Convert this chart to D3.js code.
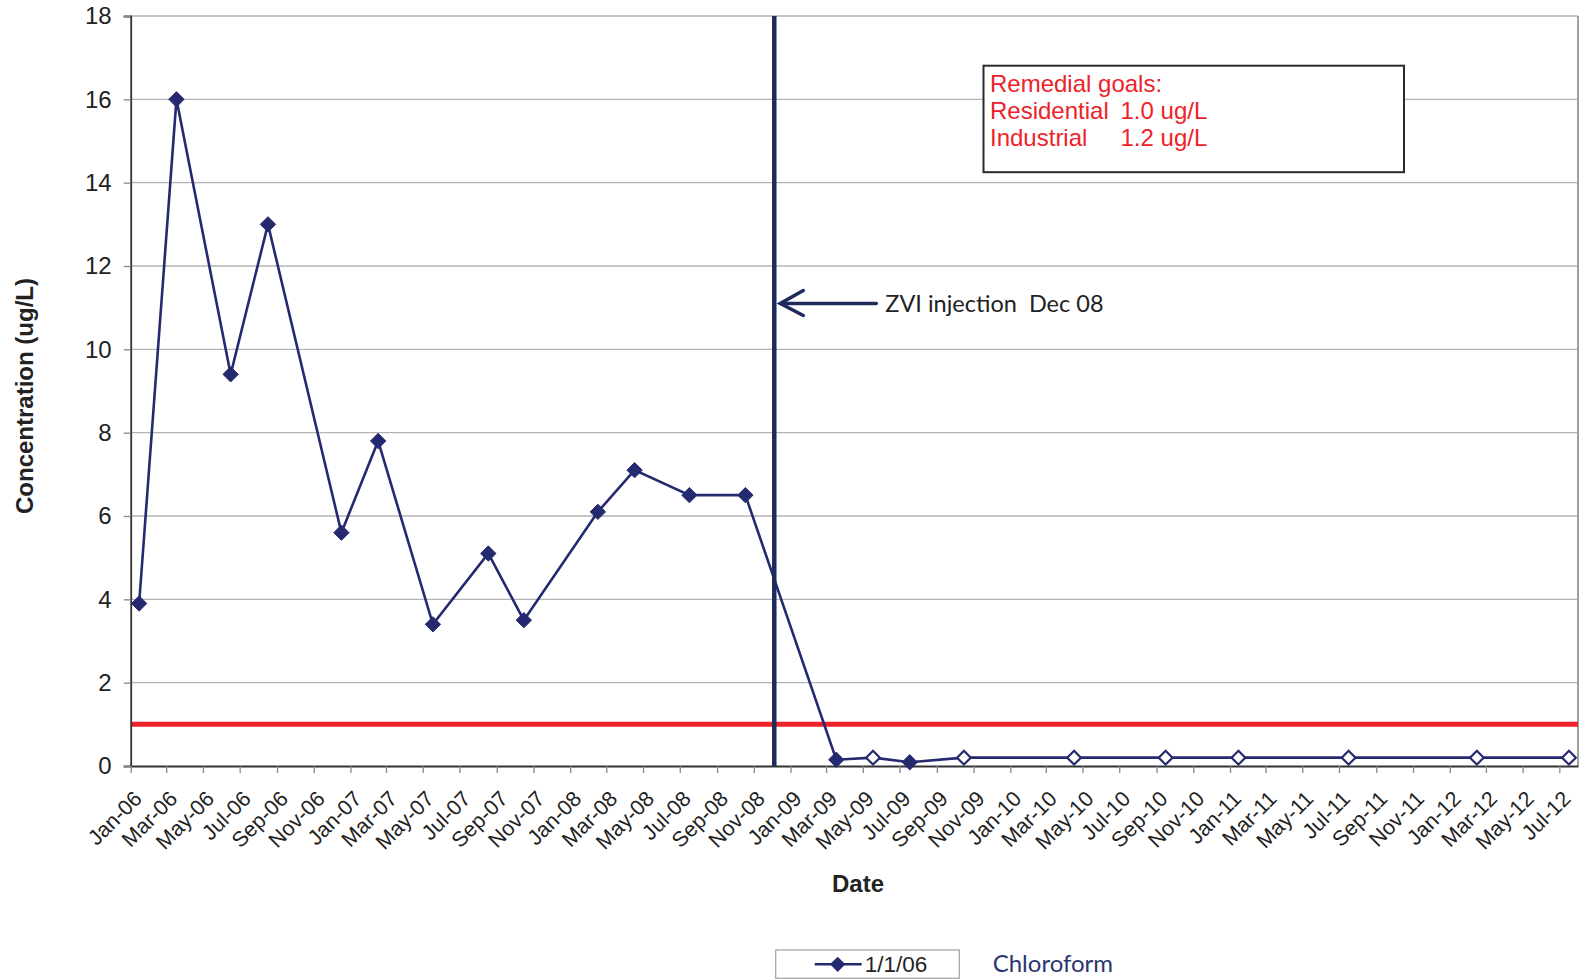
<!DOCTYPE html>
<html>
<head>
<meta charset="utf-8">
<script src="https://cdn.jsdelivr.net/npm/d3@7"></script>
<style>
    body { margin: 0; background: #fff; }
    svg { display: block; }
</style>
</head>
<body>
<script>
// Chloroform concentration over time, with ZVI injection marker

// sample dates and results (ug/L)
var sampleDates = [
    "2006-01-15", "2006-03-18", "2006-06-16", "2006-08-17", "2006-12-17",
    "2007-02-16", "2007-05-18", "2007-08-18", "2007-10-16", "2008-02-16",
    "2008-04-17", "2008-07-17", "2008-10-18", "2009-03-18", "2009-05-18",
    "2009-07-18", "2009-10-16", "2010-04-17", "2010-09-16", "2011-01-15",
    "2011-07-17", "2012-02-15", "2012-07-17"
];
var concentration = [
    3.9, 16, 9.4, 13, 5.6,
    7.8, 3.4, 5.1, 3.5, 6.1,
    7.1, 6.5, 6.5, 0.15, 0.2,
    0.09, 0.2, 0.2, 0.2, 0.2,
    0.2, 0.2, 0.2
];
// true = not detected (hollow marker)
var nonDetect = [
    false, false, false, false, false,
    false, false, false, false, false,
    false, false, false, false, true,
    false, true, true, true, true,
    true, true, true
];

var yTicks = [0, 2, 4, 6, 8, 10, 12, 14, 16, 18];
var remedialGoal = 1.0;
var injectionDate = "2008-12-05";
var axisStart = "2006-01-01", axisEnd = "2012-08-01";
var goalLines = ["Remedial goals:", "Residential", "Industrial"];
var goalValues = ["", "1.0 ug/L", "1.2 ug/L"];

var navy = "#252a70";
var red = "#ee2229";
var arial = "Liberation Sans, Arial, sans-serif";

var margin = {top: 16, right: 7, bottom: 214, left: 130.7},
    width = 1585 - margin.left - margin.right,
    height = 980 - margin.top - margin.bottom;

var svg = d3.select("body").append("svg")
    .attr("width", 1585)
    .attr("height", 980);

var g = svg.append("g")
    .attr("transform", "translate(" + margin.left + "," + margin.top + ")");

var parse = d3.utcParse("%Y-%m-%d");

var xScale = d3.scaleUtc()
    .domain([parse(axisStart), parse(axisEnd)])
    .range([0, width]);

var yScale = d3.scaleLinear().domain([0, 18]).range([height, 0]);

var data = sampleDates.map(function(d, i) {
    return {date: parse(d), value: concentration[i], nd: nonDetect[i]};
});

// gridlines
g.selectAll("line.grid")
    .data(yTicks.filter(function(t) { return t > 0; }))
    .enter().append("line")
    .attr("class", "grid")
    .attr("x1", 0).attr("x2", width)
    .attr("y1", function(d) { return yScale(d); })
    .attr("y2", function(d) { return yScale(d); })
    .attr("stroke", "#b4b4b4")
    .attr("stroke-width", 1.3);

// right border
g.append("line")
    .attr("x1", width).attr("x2", width)
    .attr("y1", 0).attr("y2", height)
    .attr("stroke", "#a0a0a0")
    .attr("stroke-width", 2);

// remedial goal line
g.append("line")
    .attr("x1", 0).attr("x2", width)
    .attr("y1", yScale(remedialGoal)).attr("y2", yScale(remedialGoal))
    .attr("stroke", red)
    .attr("stroke-width", 5);

// y axis
var yAxis = d3.axisLeft(yScale).tickValues(yTicks).tickSize(7).tickPadding(12);
var yg = g.append("g").call(yAxis);
yg.select(".domain").attr("stroke", "#333").attr("stroke-width", 1.8);
yg.selectAll(".tick line").attr("stroke", "#888").attr("stroke-width", 1.3);
yg.selectAll("text")
    .attr("font-family", arial)
    .attr("font-size", "24px")
    .attr("fill", "#222");

// x axis
var tickDates = d3.utcMonth.every(2).range(parse(axisStart), parse(axisEnd));
var xAxis = d3.axisBottom(xScale)
    .tickValues(tickDates)
    .tickFormat(d3.utcFormat("%b-%y"))
    .tickSize(7)
    .tickSizeOuter(0);
var xg = g.append("g")
    .attr("transform", "translate(0," + height + ")")
    .call(xAxis);
xg.select(".domain").attr("stroke", "#333").attr("stroke-width", 1.8);
xg.selectAll(".tick line").attr("stroke", "#888").attr("stroke-width", 1.3);
xg.selectAll("text")
    .attr("font-family", arial)
    .attr("font-size", "21.5px")
    .attr("fill", "#222")
    .attr("y", 0)
    .attr("dy", "0")
    .style("text-anchor", "end")
    .attr("transform", "translate(12,34) rotate(-45)");

// series line
var line = d3.line()
    .x(function(d) { return xScale(d.date); })
    .y(function(d) { return yScale(d.value); });

g.append("path")
    .datum(data)
    .attr("d", line)
    .attr("fill", "none")
    .attr("stroke", navy)
    .attr("stroke-width", 2.6);

// injection marker line
var xInj = xScale(parse(injectionDate));
g.append("line")
    .attr("x1", xInj).attr("x2", xInj)
    .attr("y1", 0).attr("y2", height)
    .attr("stroke", "#1f2a5c")
    .attr("stroke-width", 4.5);

// markers
var diamond = d3.symbol().type(d3.symbolDiamond2);
g.selectAll("path.pt")
    .data(data)
    .enter().append("path")
    .attr("class", "pt")
    .attr("transform", function(d) {
        return "translate(" + xScale(d.date) + "," + yScale(d.value) + ")";
    })
    .attr("d", function(d) { return diamond.size(d.nd ? 120 : 150)(); })
    .attr("fill", function(d) { return d.nd ? "#fff" : navy; })
    .attr("stroke", navy)
    .attr("stroke-width", function(d) { return d.nd ? 2.2 : 1; });

// arrow + annotation
var arrowY = yScale(11.1);
var arrow = g.append("g").attr("stroke", "#1f2a5c").attr("fill", "none")
    .attr("stroke-width", 3.5).attr("stroke-linecap", "round");
arrow.append("line")
    .attr("x1", xInj + 6).attr("x2", xInj + 102)
    .attr("y1", arrowY).attr("y2", arrowY);
arrow.append("path")
    .attr("d", "M" + (xInj + 29) + "," + (arrowY - 13) +
        "L" + (xInj + 6) + "," + arrowY +
        "L" + (xInj + 29) + "," + (arrowY + 12));
g.append("text")
    .attr("x", xInj + 111)
    .attr("y", arrowY + 8)
    .attr("font-family", "Lato, sans-serif")
    .attr("font-size", "23.5px")
    .attr("fill", "#222")
    .attr("xml:space", "preserve")
    .text("ZVI injection  Dec 08");

// remedial goals box
var box = svg.append("g").attr("transform", "translate(983.5,65.7)");
box.append("rect")
    .attr("width", 420.5).attr("height", 106.5)
    .attr("fill", "#fff")
    .attr("stroke", "#2a2a2a")
    .attr("stroke-width", 2);
box.selectAll("text.lbl")
    .data(goalLines)
    .enter().append("text")
    .attr("class", "lbl")
    .attr("x", 6.5)
    .attr("y", function(d, i) { return 26 + i * 27.4; })
    .attr("font-family", arial)
    .attr("font-size", "24px")
    .attr("fill", red)
    .text(function(d) { return d; });
box.selectAll("text.val")
    .data(goalValues)
    .enter().append("text")
    .attr("class", "val")
    .attr("x", 137)
    .attr("y", function(d, i) { return 26 + i * 27.4; })
    .attr("font-family", arial)
    .attr("font-size", "24px")
    .attr("fill", red)
    .text(function(d) { return d; });

// axis titles
svg.append("text")
    .attr("x", 858)
    .attr("y", 892)
    .attr("text-anchor", "middle")
    .attr("font-family", arial)
    .attr("font-size", "24px")
    .attr("font-weight", "bold")
    .attr("fill", "#222")
    .text("Date");

svg.append("text")
    .attr("transform", "translate(33,396) rotate(-90)")
    .attr("text-anchor", "middle")
    .attr("font-family", arial)
    .attr("font-size", "24px")
    .attr("font-weight", "bold")
    .attr("fill", "#222")
    .text("Concentration (ug/L)");

// legend
var leg = svg.append("g").attr("transform", "translate(775.7,950)");
leg.append("rect")
    .attr("width", 183.6).attr("height", 28.3)
    .attr("fill", "#fff")
    .attr("stroke", "#a8a8a8")
    .attr("stroke-width", 1.3);
leg.append("line")
    .attr("x1", 39).attr("x2", 86)
    .attr("y1", 14.3).attr("y2", 14.3)
    .attr("stroke", navy).attr("stroke-width", 2.6);
leg.append("path")
    .attr("transform", "translate(62,14.3)")
    .attr("d", diamond.size(150)())
    .attr("fill", navy);
leg.append("text")
    .attr("x", 89)
    .attr("y", 21.5)
    .attr("font-family", arial)
    .attr("font-size", "22.5px")
    .attr("fill", "#222")
    .text("1/1/06");

svg.append("text")
    .attr("x", 992.7)
    .attr("y", 972)
    .attr("font-family", "Lato, sans-serif")
    .attr("font-size", "24px")
    .attr("fill", "#2b3570")
    .text("Chloroform");
</script>
</body>
</html>
